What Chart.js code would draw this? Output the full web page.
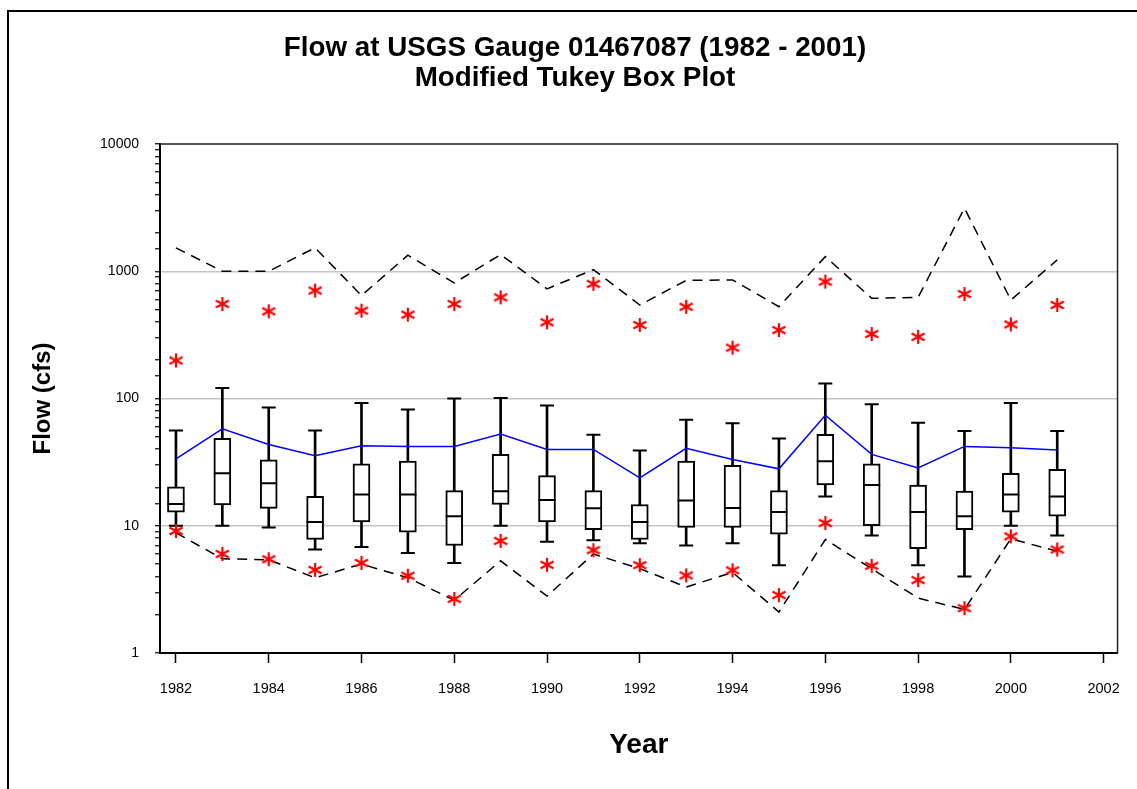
<!DOCTYPE html>
<html>
<head>
<meta charset="utf-8">
<script src="https://cdn.jsdelivr.net/npm/chart.js@4.4.1/dist/chart.umd.min.js"></script>
<style>
  html, body { margin: 0; padding: 0; background: #ffffff; }
  #wrap { position: relative; width: 1137px; height: 789px; overflow: hidden; }
  #frame { position: absolute; left: 7px; top: 10px; right: -10px; bottom: -10px;
           border-top: 2px solid #000; border-left: 2px solid #000; pointer-events: none; }
  canvas { position: absolute; left: 0; top: 0; }
</style>
</head>
<body>
<div id="wrap">
  <div id="frame"></div>
  <canvas id="c" width="1137" height="789"></canvas>
</div>
<script>
// ---- Data ----
const years = [1982,1983,1984,1985,1986,1987,1988,1989,1990,1991,1992,1993,1994,1995,1996,1997,1998,1999,2000,2001];
const whiskerHigh = [56, 121, 85, 56, 92, 82, 100, 101, 88, 52, 39, 68, 64, 48.6, 131, 90, 64.5, 55.5, 92, 55.5];
const q3          = [20.2, 48.6, 33, 17, 30.7, 32.2, 18.9, 36.4, 24.8, 18.9, 14.7, 32.2, 29.8, 18.9, 52.2, 30.7, 20.9, 18.7, 25.8, 27.8];
const median      = [14.8, 25.8, 21.6, 10.7, 17.6, 17.6, 11.9, 18.7, 15.9, 13.7, 10.7, 15.8, 13.8, 12.8, 32.2, 20.9, 12.8, 11.9, 17.6, 17];
const q1          = [12.8, 14.6, 13.7, 7.8, 10.7, 8.9, 7.0, 14.7, 10.7, 9.3, 7.8, 9.7, 9.7, 8.6, 20.9, 10, 6.6, 9.3, 12.8, 11.9];
const whiskerLow  = [10, 10, 9.7, 6.5, 6.8, 6.1, 5.1, 10, 7.5, 7.7, 7.3, 7.0, 7.3, 4.9, 17, 8.4, 4.9, 4.0, 10, 8.4];
const meanFlow    = [33.6, 57.8, 43.5, 35.5, 42.5, 42, 42, 52.5, 39.8, 39.8, 23.8, 40.6, 33.2, 28, 73.8, 36.4, 28.5, 42, 41, 39.3];
const upperFence  = [1528, 1000, 1000, 1528, 644, 1337, 809, 1353, 727, 1031, 543, 847, 854, 526, 1303, 613, 623, 3133, 594, 1228];
const lowerFence  = [8.8, 5.5, 5.4, 3.9, 5.0, 3.9, 2.6, 5.3, 2.8, 6.0, 4.6, 3.3, 4.3, 2.1, 7.8, 4.6, 2.7, 2.2, 7.9, 6.3];
const highPoints  = [199, 553, 484, 705, 490, 456, 553, 624, 397, 796, 378, 526, 251, 345, 828, 321, 305, 662, 382, 543];
const lowPoints   = [9.1, 6.0, 5.46, 4.5, 5.1, 4.05, 2.66, 7.6, 4.93, 6.43, 4.9, 4.07, 4.46, 2.85, 10.5, 4.84, 3.74, 2.25, 8.26, 6.5];
const xTickValues = [1982,1984,1986,1988,1990,1992,1994,1996,1998,2000,2002];
const titleLines  = ['Flow at USGS Gauge 01467087 (1982 - 2001)', 'Modified Tukey Box Plot'];
const xTitle = 'Year';
const yTitle = 'Flow (cfs)';

// ---- helpers ----
const pts = arr => years.map((x, i) => ({ x, y: arr[i] }));
const ranges = (lo, hi) => years.map((x, i) => ({ x, y: [lo[i], hi[i]] }));
const isPow10 = v => { const l = Math.log10(v); return Math.abs(l - Math.round(l)) < 1e-9; };

const asterisk = (() => {
  const c = document.createElement('canvas');
  c.width = 16; c.height = 16;
  const g = c.getContext('2d');
  g.strokeStyle = '#ff0000';
  g.lineWidth = 2.2;
  g.beginPath();
  g.moveTo(8, 1); g.lineTo(8, 15);
  g.moveTo(1.5, 4.5); g.lineTo(14.5, 11.5);
  g.moveTo(1.5, 11.5); g.lineTo(14.5, 4.5);
  g.stroke();
  return c;
})();

const plotFrame = {
  id: 'plotFrame',
  afterDraw(chart) {
    const { ctx, chartArea: a } = chart;
    ctx.save();
    ctx.strokeStyle = '#222';
    ctx.lineWidth = 1.5;
    ctx.beginPath();
    ctx.moveTo(a.left, a.top);
    ctx.lineTo(a.right, a.top);
    ctx.lineTo(a.right, a.bottom);
    ctx.stroke();
    ctx.restore();
  }
};

const FONT = "'Liberation Sans', Arial, sans-serif";

new Chart(document.getElementById('c'), {
  type: 'line',
  data: {
    datasets: [
      { type: 'line', data: pts(highPoints), showLine: false, pointStyle: asterisk, pointRadius: 7, order: 1 },
      { type: 'line', data: pts(lowPoints), showLine: false, pointStyle: asterisk, pointRadius: 7, order: 1 },
      { type: 'line', data: pts(meanFlow), borderColor: '#0000ff', borderWidth: 1.5, pointRadius: 0, tension: 0, order: 2 },
      { type: 'line', data: pts(upperFence), borderColor: '#000', borderWidth: 1.5, borderDash: [10, 7], pointRadius: 0, tension: 0, order: 3 },
      { type: 'line', data: pts(lowerFence), borderColor: '#000', borderWidth: 1.5, borderDash: [10, 7], pointRadius: 0, tension: 0, order: 3 },
      { type: 'line', data: pts(median), showLine: false, pointStyle: 'line', pointRadius: 8.5, pointBorderWidth: 2, pointBorderColor: '#000', pointBackgroundColor: '#000', order: 4 },
      { type: 'line', data: pts(whiskerHigh), showLine: false, pointStyle: 'line', pointRadius: 7, pointBorderWidth: 2, pointBorderColor: '#000', pointBackgroundColor: '#000', order: 4 },
      { type: 'line', data: pts(whiskerLow), showLine: false, pointStyle: 'line', pointRadius: 7, pointBorderWidth: 2, pointBorderColor: '#000', pointBackgroundColor: '#000', order: 4 },
      { type: 'bar', data: ranges(q1, q3), backgroundColor: '#ffffff', borderColor: '#000', borderWidth: 2, borderSkipped: false, barThickness: 17, grouped: false, order: 5 },
      { type: 'bar', data: ranges(whiskerLow, whiskerHigh), backgroundColor: '#000', borderWidth: 0, barThickness: 2, grouped: false, order: 6 }
    ]
  },
  options: {
    responsive: false,
    animation: false,
    events: [],
    layout: { padding: { left: 31, right: 18, top: 0, bottom: 0 } },
    plugins: {
      legend: { display: false },
      tooltip: { enabled: false },
      title: {
        display: true,
        text: titleLines,
        color: '#000',
        font: { family: FONT, size: 27.8, weight: 'bold', lineHeight: '30px' },
        padding: { top: 33, bottom: 51 }
      }
    },
    scales: {
      x: {
        type: 'linear',
        min: 1981.656,
        max: 2002.3,
        offset: false,
        afterFit: s => { s.height = 136; },
        afterBuildTicks: s => { s.ticks = xTickValues.map(v => ({ value: v })); },
        ticks: { autoSkip: false, maxRotation: 0, padding: 17, color: '#000',
                 font: { family: FONT, size: 14.5 }, callback: v => String(v) },
        grid: { drawOnChartArea: false, drawTicks: true, tickLength: 10, tickColor: '#000', tickWidth: 1.5, offset: false },
        border: { display: true, color: '#000', width: 2 },
        title: { display: true, text: xTitle, color: '#000',
                 font: { family: FONT, size: 28, weight: 'bold', lineHeight: 1 },
                 padding: { top: 0, bottom: 30 } }
      },
      y: {
        type: 'logarithmic',
        min: 1,
        max: 10000,
        afterFit: s => { s.width = 129; },
        ticks: { autoSkip: false, padding: 16, color: '#000',
                 font: { family: FONT, size: 14 },
                 callback: v => isPow10(v) ? String(v) : '' },
        grid: {
          drawOnChartArea: true, drawTicks: true, tickLength: 5, tickColor: '#000', tickWidth: 1.2,
          lineWidth: 1.5,
          color: c => {
            const v = c.tick ? c.tick.value : 0;
            return (isPow10(v) && v > 1 && v < 10000) ? '#c4c4c4' : 'rgba(0,0,0,0)';
          }
        },
        border: { display: true, color: '#000', width: 2 },
        title: { display: true, text: yTitle, color: '#000',
                 font: { family: FONT, size: 24, weight: 'bold', lineHeight: 1 },
                 padding: { top: 0, bottom: 0 } }
      }
    }
  },
  plugins: [plotFrame]
});
</script>
</body>
</html>
